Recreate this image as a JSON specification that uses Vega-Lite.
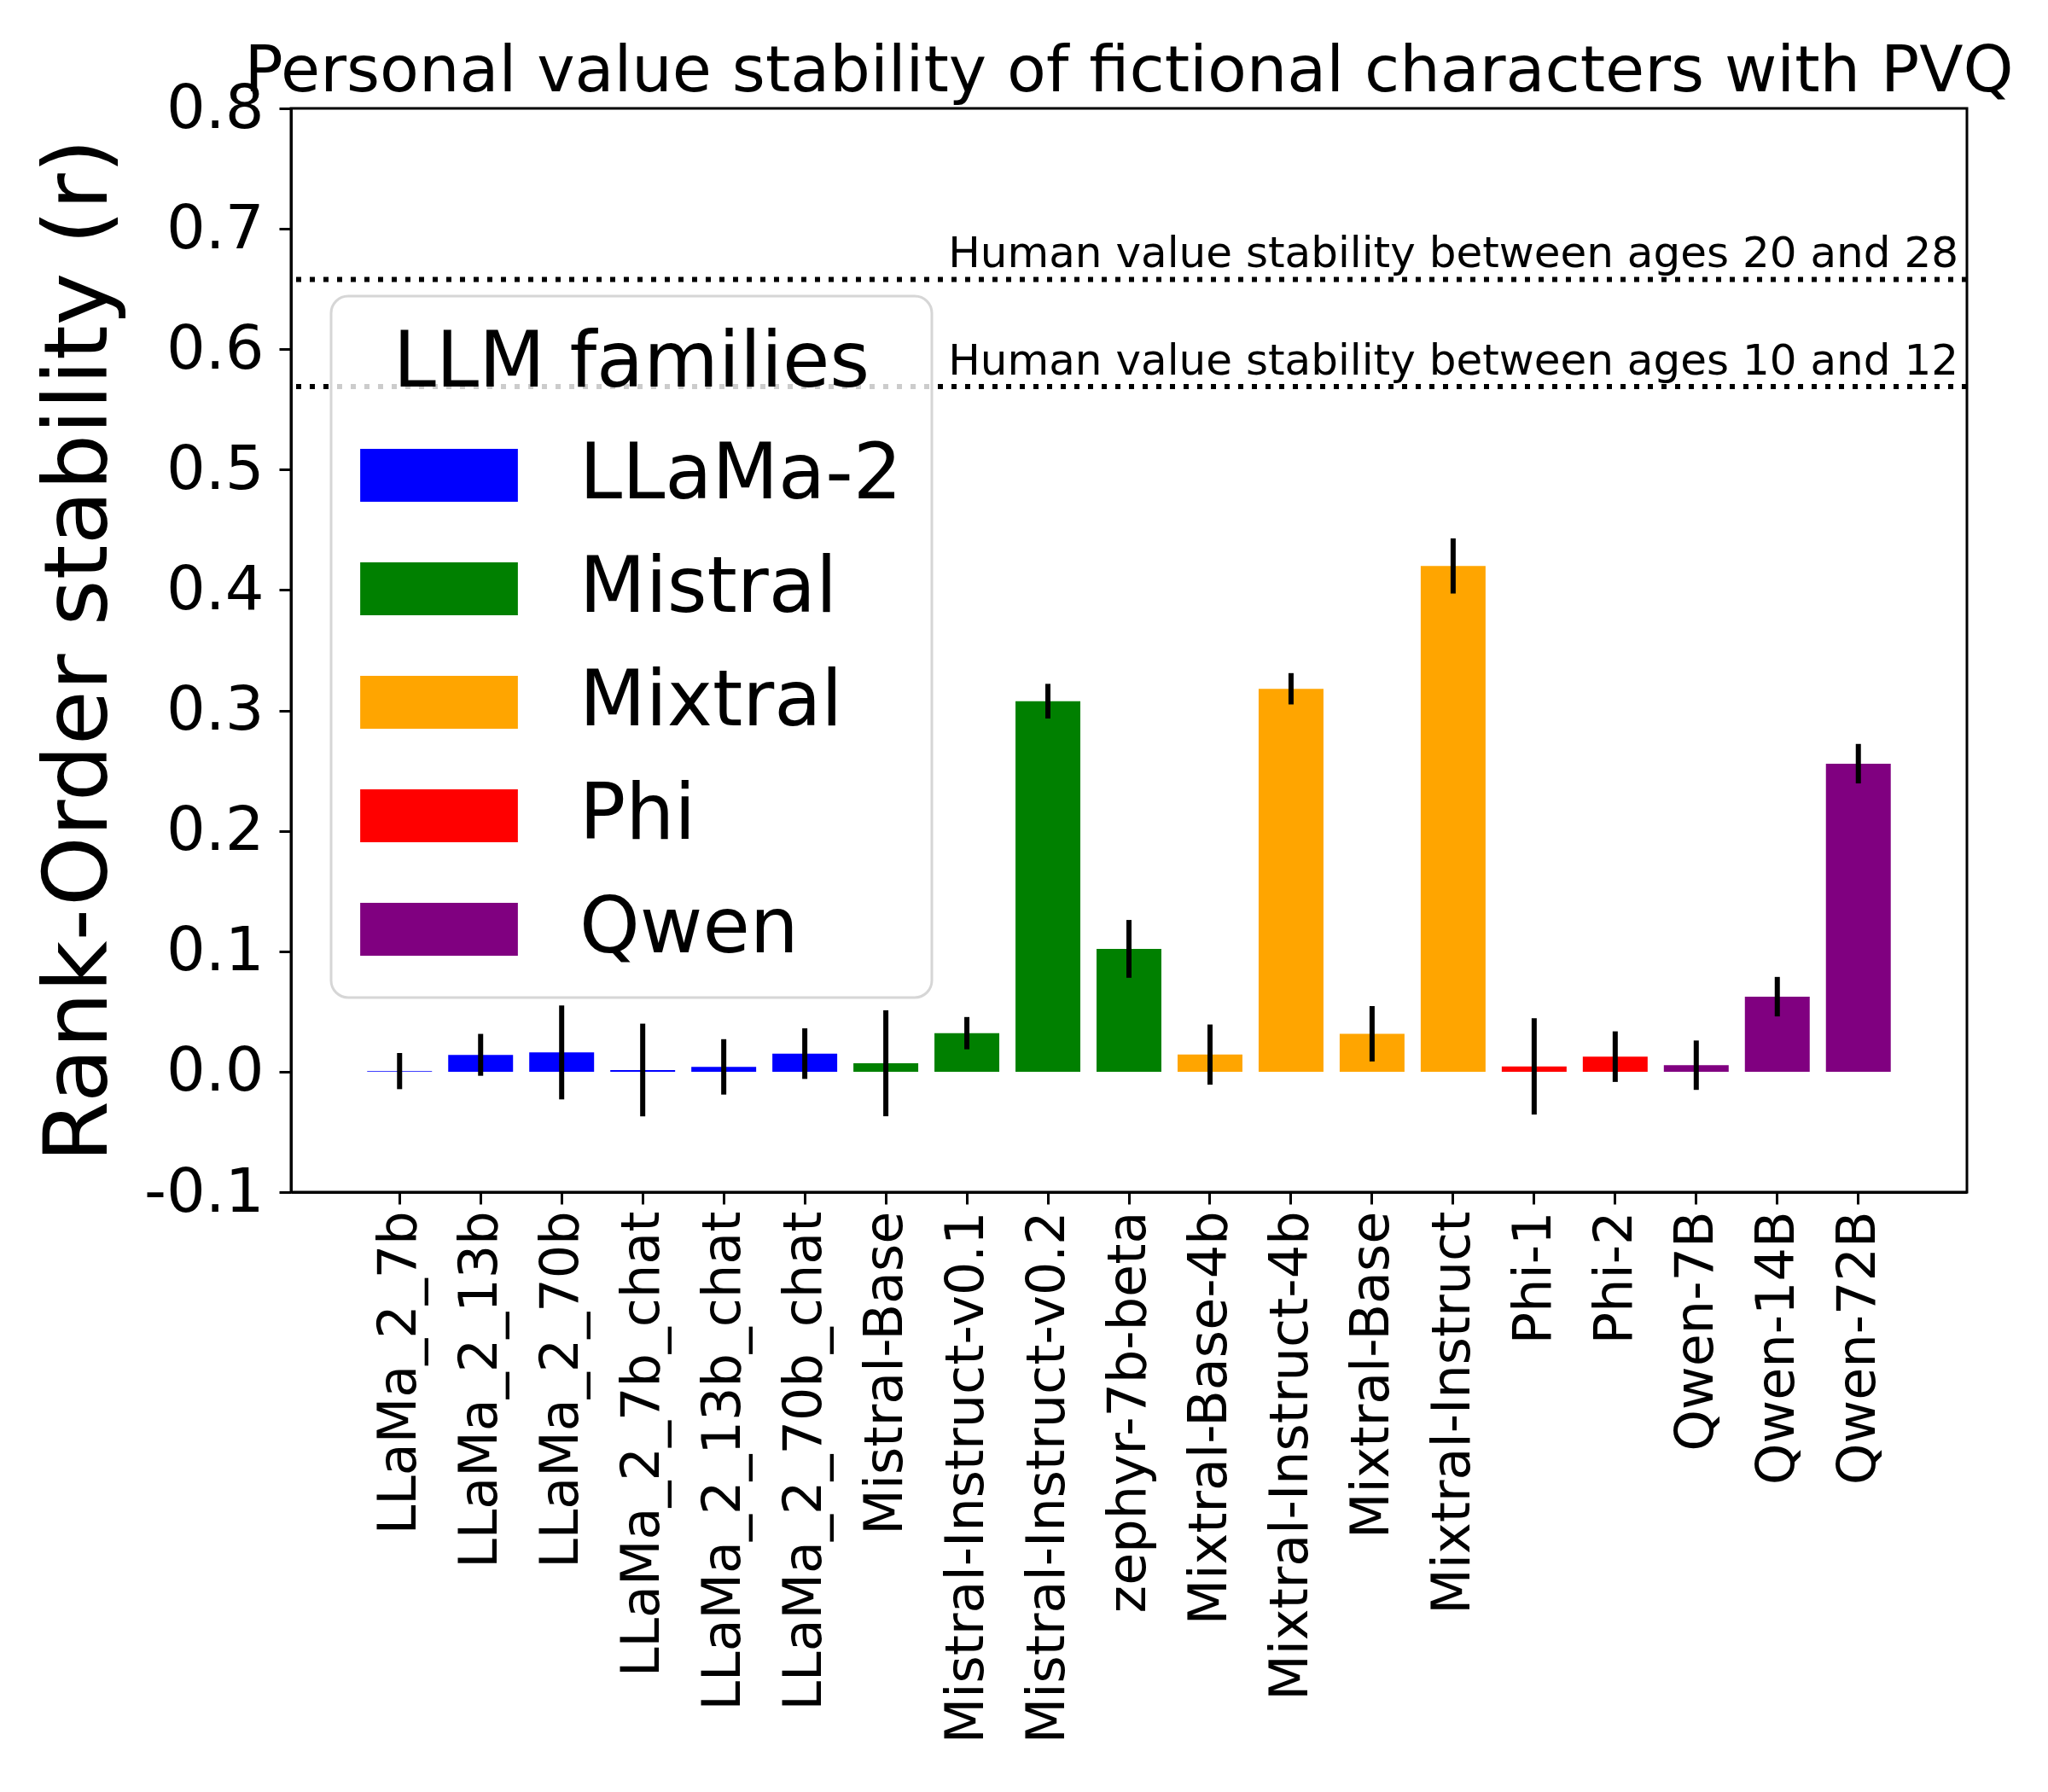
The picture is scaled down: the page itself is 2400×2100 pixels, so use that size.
{
  "$schema": "https://vega.github.io/schema/vega-lite/v6.json",
  "autosize": {"type": "none"},
  "width": 1964,
  "height": 1270,
  "padding": {"left": 341, "top": 127, "right": 95, "bottom": 703},
  "background": "white",
  "title": {
    "text": "Personal value stability of fictional characters with PVQ",
    "fontSize": 75,
    "font": "DejaVu Sans",
    "fontWeight": "normal",
    "color": "black",
    "anchor": "middle",
    "offset": -32
  },
  "config": {
    "font": "DejaVu Sans",
    "view": {"stroke": "black", "strokeWidth": 3},
    "axis": {
      "grid": false,
      "domainColor": "black",
      "domainWidth": 3,
      "tickColor": "black",
      "tickWidth": 3,
      "tickSize": 14,
      "labelColor": "black",
      "labelFont": "DejaVu Sans",
      "labelLimit": 3000,
      "titleFont": "DejaVu Sans",
      "titleFontWeight": "normal",
      "titleColor": "black"
    },
    "legend": {
      "orient": "none",
      "legendX": 47,
      "legendY": 220,
      "fillColor": "rgba(255,255,255,0.8)",
      "strokeColor": "#d6d6d6",
      "strokeWidth": 3,
      "cornerRadius": 20,
      "padding": 35,
      "titleFont": "DejaVu Sans",
      "titleFontSize": 90,
      "titleFontWeight": "normal",
      "titleColor": "black",
      "titleAnchor": "middle",
      "titlePadding": 40,
      "titleLimit": 3000,
      "labelFont": "DejaVu Sans",
      "labelFontSize": 90,
      "labelColor": "black",
      "labelLimit": 3000,
      "labelOffset": 166,
      "rowPadding": 43,
      "symbolType": "M-1.48,-1H4.48V1H-1.48Z",
      "symbolSize": 3844,
      "symbolStrokeWidth": 0,
      "symbolOpacity": 1
    }
  },
  "datasets": {
    "models": [
      {"model": "LLaMa_2_7b", "family": "LLaMa-2", "value": 0.0005, "err": 0.015},
      {"model": "LLaMa_2_13b", "family": "LLaMa-2", "value": 0.014, "err": 0.0174},
      {"model": "LLaMa_2_70b", "family": "LLaMa-2", "value": 0.016, "err": 0.039},
      {"model": "LLaMa_2_7b_chat", "family": "LLaMa-2", "value": 0.0014, "err": 0.0385},
      {"model": "LLaMa_2_13b_chat", "family": "LLaMa-2", "value": 0.004, "err": 0.023},
      {"model": "LLaMa_2_70b_chat", "family": "LLaMa-2", "value": 0.015, "err": 0.021},
      {"model": "Mistral-Base", "family": "Mistral", "value": 0.007, "err": 0.044},
      {"model": "Mistral-Instruct-v0.1", "family": "Mistral", "value": 0.032, "err": 0.0134},
      {"model": "Mistral-Instruct-v0.2", "family": "Mistral", "value": 0.3077, "err": 0.0144},
      {"model": "zephyr-7b-beta", "family": "Mistral", "value": 0.102, "err": 0.024},
      {"model": "Mixtral-Base-4b", "family": "Mixtral", "value": 0.0142, "err": 0.025},
      {"model": "Mixtral-Instruct-4b", "family": "Mixtral", "value": 0.318, "err": 0.013},
      {"model": "Mixtral-Base", "family": "Mixtral", "value": 0.0315, "err": 0.023},
      {"model": "Mixtral-Instruct", "family": "Mixtral", "value": 0.42, "err": 0.0229},
      {"model": "Phi-1", "family": "Phi", "value": 0.0044, "err": 0.04},
      {"model": "Phi-2", "family": "Phi", "value": 0.0125, "err": 0.021},
      {"model": "Qwen-7B", "family": "Qwen", "value": 0.0054, "err": 0.0205},
      {"model": "Qwen-14B", "family": "Qwen", "value": 0.0623, "err": 0.0164},
      {"model": "Qwen-72B", "family": "Qwen", "value": 0.2558, "err": 0.0164}
    ],
    "human": [
      {"value": 0.658, "label": "Human value stability between ages 20 and 28"},
      {"value": 0.569, "label": "Human value stability between ages 10 and 12"}
    ]
  },
  "layer": [
    {
      "data": {"name": "models"},
      "mark": {"type": "bar"},
      "encoding": {
        "x": {
          "field": "model",
          "type": "nominal",
          "sort": null,
          "scale": {"paddingInner": 0.2, "paddingOuter": 0.94},
          "axis": {
            "title": null,
            "labelAngle": -90,
            "labelAlign": "right",
            "labelBaseline": "middle",
            "labelFontSize": 62,
            "labelPadding": 8
          }
        },
        "y": {
          "field": "value",
          "type": "quantitative",
          "title": "Rank-Order stability (r)",
          "scale": {"domain": [-0.1, 0.8], "nice": false, "zero": false},
          "axis": {
            "values": [-0.1, 0, 0.1, 0.2, 0.3, 0.4, 0.5, 0.6, 0.7, 0.8],
            "format": ".1f",
            "labelExpr": "replace(datum.label, '\u2212', '-')",
            "labelFontSize": 72,
            "titleFontSize": 104,
            "titlePadding": 22,
            "labelPadding": 18
          }
        },
        "color": {
          "field": "family",
          "type": "nominal",
          "title": "LLM families",
          "scale": {
            "domain": ["LLaMa-2", "Mistral", "Mixtral", "Phi", "Qwen"],
            "range": ["#0000ff", "#008000", "#ffa500", "#ff0000", "#800080"]
          }
        }
      }
    },
    {
      "data": {"name": "models"},
      "mark": {"type": "errorbar", "color": "black", "thickness": 6},
      "encoding": {
        "x": {"field": "model", "type": "nominal", "sort": null},
        "y": {"field": "value", "type": "quantitative", "title": "Rank-Order stability (r)"},
        "yError": {"field": "err"}
      }
    },
    {
      "data": {"name": "human"},
      "mark": {"type": "rule", "color": "black", "strokeWidth": 6, "strokeDash": [6, 10]},
      "encoding": {
        "y": {"field": "value", "type": "quantitative", "title": "Rank-Order stability (r)"}
      }
    },
    {
      "data": {"name": "human"},
      "mark": {
        "type": "text",
        "align": "right",
        "baseline": "alphabetic",
        "fontSize": 50,
        "font": "DejaVu Sans",
        "color": "black",
        "dx": -10,
        "dy": -14
      },
      "encoding": {
        "x": {"value": "width"},
        "y": {"field": "value", "type": "quantitative", "title": "Rank-Order stability (r)"},
        "text": {"field": "label"}
      }
    }
  ]
}
